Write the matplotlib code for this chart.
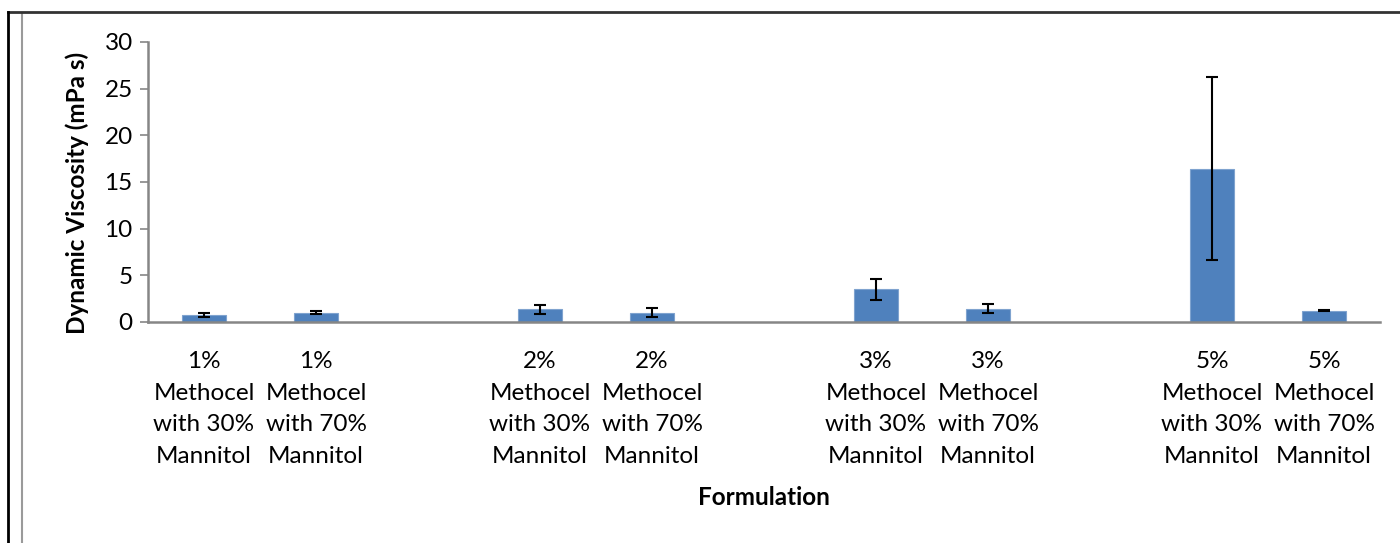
import matplotlib.pyplot as plt
import numpy as np
from matplotlib.lines import Line2D

plt.rcParams["font.family"] = ["Lato", "DejaVu Sans"]

# empty strings are the blank spacer categories between groups
categories = [
    "1%\nMethocel\nwith 30%\nMannitol",
    "1%\nMethocel\nwith 70%\nMannitol",
    "",
    "2%\nMethocel\nwith 30%\nMannitol",
    "2%\nMethocel\nwith 70%\nMannitol",
    "",
    "3%\nMethocel\nwith 30%\nMannitol",
    "3%\nMethocel\nwith 70%\nMannitol",
    "",
    "5%\nMethocel\nwith 30%\nMannitol",
    "5%\nMethocel\nwith 70%\nMannitol",
]
viscosity = [0.77, 1.0, np.nan, 1.35, 1.0, np.nan, 3.5, 1.4, np.nan, 16.4, 1.23]
viscosity_sd = [0.2, 0.18, np.nan, 0.45, 0.45, np.nan, 1.15, 0.48, np.nan, 9.8, 0.06]
y_ticks = [0, 5, 10, 15, 20, 25, 30]

W, H = 1400, 543
fig = plt.figure(figsize=(W / 100, H / 100), dpi=100)
ax = fig.add_axes([148 / W, 1 - 322 / H, (1380 - 148) / W, (322 - 42) / H])

x = np.arange(len(categories))
ax.bar(x, viscosity, width=0.4, color="#4F81BD", edgecolor="#7FA3CF", linewidth=0.8)
ax.errorbar(x, viscosity, yerr=viscosity_sd, fmt="none", ecolor="black",
            elinewidth=1.5, capsize=4, capthick=1.5)

ax.set_xlim(-0.5, len(categories) - 0.5)
ax.set_ylim(0, 30)
ax.set_yticks(y_ticks)
ax.set_xticks(x)
ax.set_xticklabels(categories, fontsize=17.5, linespacing=1.62)
ax.tick_params(axis="x", length=0, pad=21)
ax.tick_params(axis="y", labelsize=17.5, length=6, width=1.2, color="#868686", pad=5)

for side in ["top", "right"]:
    ax.spines[side].set_visible(False)
for side in ["left", "bottom"]:
    ax.spines[side].set_color("#868686")
    ax.spines[side].set_linewidth(1.8)

ax.set_ylabel("Dynamic Viscosity (mPa s)", fontsize=17.5, fontweight="bold")
ax.yaxis.set_label_coords(-0.048, 0.46)
ax.set_xlabel("Formulation", fontsize=17.5, fontweight="bold", labelpad=14)

# frame remnants of the original chart border
fig.add_artist(Line2D([22 / W, 22 / W], [0, 1 - 13 / H], color="#9a9a9a", lw=1.5))
fig.add_artist(Line2D([8 / W, 1], [1 - 12 / H, 1 - 12 / H], color="#333333", lw=2))
fig.add_artist(Line2D([8 / W, 8 / W], [0, 1 - 12 / H], color="black", lw=2))

fig.savefig("out.png", dpi=100)
